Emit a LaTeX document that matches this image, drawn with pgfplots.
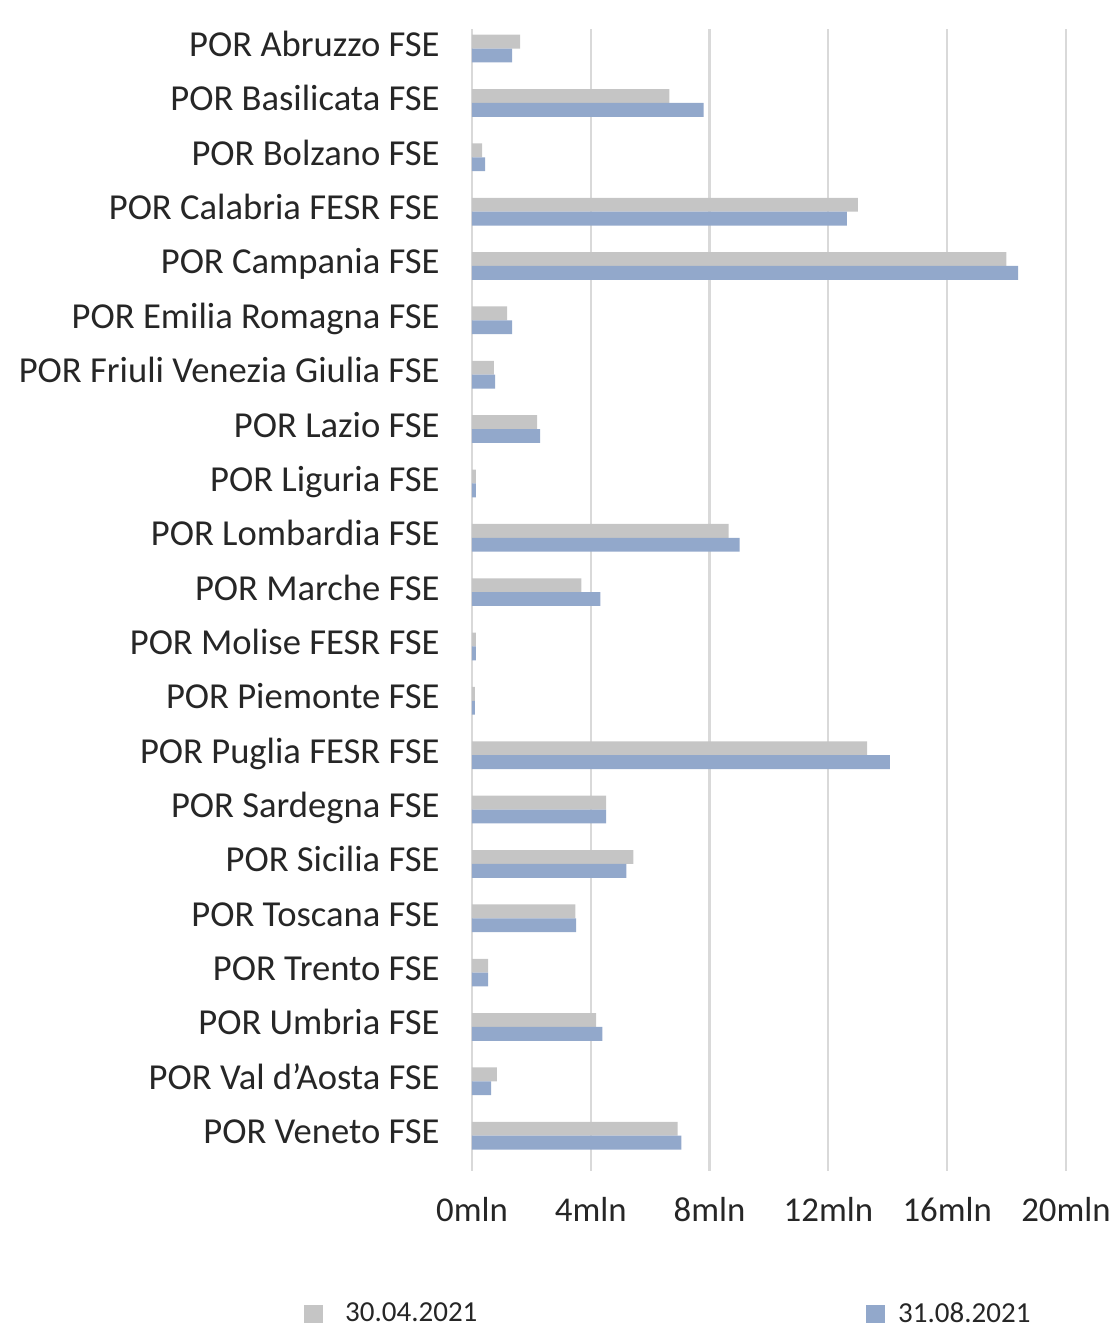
\documentclass[border=0pt]{standalone}
\usepackage{fontspec}
\setmainfont{Carlito}
\usepackage{pgfplots}
\usepackage{pgfplotstable}
\pgfplotsset{compat=1.18}
\definecolor{cgray}{HTML}{C5C5C5}
\definecolor{cblue}{HTML}{92A8CB}
\definecolor{cgrid}{HTML}{D9D9D9}
\definecolor{ctext}{HTML}{262626}

\pgfplotstableread{
idx g b
0 1.62 1.35
1 6.65 7.80
2 0.34 0.44
3 12.99 12.62
4 17.99 18.39
5 1.18 1.35
6 0.74 0.78
7 2.19 2.29
8 0.13 0.13
9 8.64 9.01
10 3.68 4.32
11 0.13 0.13
12 0.10 0.10
13 13.30 14.07
14 4.52 4.52
15 5.43 5.20
16 3.48 3.51
17 0.54 0.54
18 4.18 4.39
19 0.84 0.64
20 6.92 7.05
}\data

\begin{document}
\begin{tikzpicture}
\useasboundingbox (-236pt,-78.5pt) rectangle (322pt,585.5pt);
\begin{axis}[
  at={(0,0)}, anchor=south west,
  scale only axis, width=297pt, height=571pt,
  xbar, bar width=0.255,
  xmin=0, xmax=20, ymin=-0.36, ymax=20.65, y dir=reverse,
  axis line style={draw=none},
  xtick={0,4,8,12,16,20},
  xticklabels={0mln,4mln,8mln,12mln,16mln,20mln},
  xtick pos=bottom, ytick pos=left,
  major tick length=0pt,
  xtick style={draw=none},
  ytick style={draw=none},
  xmajorgrids, grid style={cgrid, line width=1.1pt},
  ytick={0,...,20},
  yticklabels={POR Abruzzo FSE, POR Basilicata FSE, POR Bolzano FSE, POR Calabria FESR FSE, POR Campania FSE, POR Emilia Romagna FSE, POR Friuli Venezia Giulia FSE, POR Lazio FSE, POR Liguria FSE, POR Lombardia FSE, POR Marche FSE, POR Molise FESR FSE, POR Piemonte FSE, POR Puglia FESR FSE, POR Sardegna FSE, POR Sicilia FSE, POR Toscana FSE, POR Trento FSE, POR Umbria FSE, POR Val d’Aosta FSE, POR Veneto FSE},
  yticklabel style={font=\fontsize{18.3}{20}\selectfont, text=ctext, inner sep=0pt, anchor=base east, xshift=-16pt, yshift=-4pt},
  xticklabel style={font=\fontsize{17.4}{20}\selectfont, text=ctext, inner sep=0pt, anchor=base, yshift=-25pt},
  legend columns=2,
  legend image code/.code={\fill[#1] (0pt,-4.7pt) rectangle (9.4pt,4.7pt);},
  legend style={draw=none, fill=none, inner sep=0pt, at={(0,0)}, anchor=west, xshift=-84pt, yshift=-71.5pt,
    font=\fontsize{14.5}{16}\selectfont, text=ctext,
    nodes={inner sep=0pt},
    /tikz/column 1/.append style={column sep=11pt},
    /tikz/column 2/.append style={column sep=194.5pt},
    /tikz/column 3/.append style={column sep=6.5pt}},
]
\addplot[fill=cgray, draw=none, bar shift=-0.1275] table[x=g, y=idx] {\data};
\addlegendentry{30.04.2021}
\addplot[fill=cblue, draw=none, bar shift=0.1275] table[x=b, y=idx] {\data};
\addlegendentry{31.08.2021}
\end{axis}
\end{tikzpicture}
\end{document}
